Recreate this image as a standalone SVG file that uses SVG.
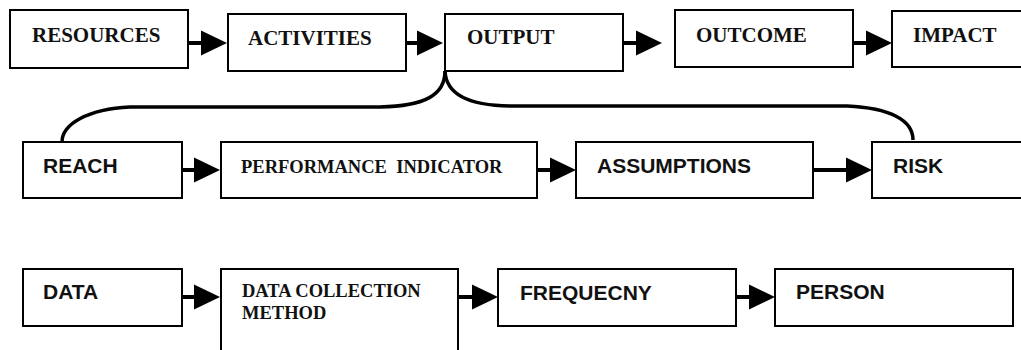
<svg xmlns="http://www.w3.org/2000/svg" width="1021" height="350" viewBox="0 0 1021 350">
  <style>
    .box { fill: #fff; stroke: #000; stroke-width: 2; }
    .serif { font-family: "Liberation Serif", "Times New Roman", serif; font-weight: bold; fill: #111; }
    .sans { font-family: "Liberation Sans", Arial, sans-serif; font-weight: bold; fill: #111; }
    .big { font-size: 21px; }
    .small { font-size: 18.5px; }
    .arrow { stroke: #000; stroke-width: 4; fill: none; marker-end: url(#head); }
    .brace { stroke: #000; stroke-width: 3.5; fill: none; }
  </style>
  <defs>
    <marker id="head" markerUnits="userSpaceOnUse" markerWidth="27" markerHeight="26" refX="4" refY="12.5" orient="auto" overflow="visible">
      <path d="M0,0 L26,12.5 L0,25 Z" fill="#000"/>
    </marker>
  </defs>

  <rect width="1021" height="350" fill="#fff"/>

  <!-- connectors -->
  <g id="connectors">
    <!-- top row -->
    <line class="arrow" x1="188" y1="43" x2="205" y2="43"/>
    <line class="arrow" x1="406" y1="43" x2="421" y2="43"/>
    <line class="arrow" x1="623" y1="43" x2="640" y2="43"/>
    <line class="arrow" x1="853" y1="43" x2="870" y2="43"/>
    <!-- middle row -->
    <line class="arrow" x1="182" y1="170" x2="198" y2="170"/>
    <line class="arrow" x1="537" y1="170" x2="554" y2="170"/>
    <line class="arrow" x1="813" y1="170" x2="850" y2="170"/>
    <!-- bottom row -->
    <line class="arrow" x1="182" y1="297" x2="198" y2="297"/>
    <line class="arrow" x1="439" y1="297" x2="476" y2="297"/>
    <line class="arrow" x1="736" y1="297" x2="753" y2="297"/>
    <!-- brace from OUTPUT down to REACH and RISK -->
    <path class="brace" d="M445,71 C445,95 425,106 380,107 L130,107 C88,109 62,124 62,142"/>
    <path class="brace" d="M445,71 C446,94 468,106 513,106 L847,106 C890,108 913,120 913,140"/>
  </g>

  <!-- top row -->
  <g id="resources">
    <rect class="box" x="10" y="10" width="178" height="58"/>
    <text class="serif big" x="32" y="42">RESOURCES</text>
  </g>
  <g id="activities">
    <rect class="box" x="228" y="14" width="178" height="57"/>
    <text class="serif big" x="248" y="45">ACTIVITIES</text>
  </g>
  <g id="output">
    <rect class="box" x="445" y="14" width="178" height="57"/>
    <text class="serif big" x="467" y="44">OUTPUT</text>
  </g>
  <g id="outcome">
    <rect class="box" x="675" y="10" width="178" height="57"/>
    <text class="serif big" x="696" y="42">OUTCOME</text>
  </g>
  <g id="impact">
    <rect class="box" x="892" y="11" width="140" height="56"/>
    <text class="serif big" x="913" y="42">IMPACT</text>
  </g>

  <!-- middle row -->
  <g id="reach">
    <rect class="box" x="23" y="142" width="159" height="56"/>
    <text class="sans big" x="43" y="173">REACH</text>
  </g>
  <g id="performance-indicator">
    <rect class="box" x="221" y="142" width="316" height="56"/>
    <text class="serif small" x="241" y="173" xml:space="preserve">PERFORMANCE  INDICATOR</text>
  </g>
  <g id="assumptions">
    <rect class="box" x="576" y="142" width="237" height="56"/>
    <text class="sans big" x="597" y="173">ASSUMPTIONS</text>
  </g>
  <g id="risk">
    <rect class="box" x="872" y="142" width="160" height="56"/>
    <text class="sans big" x="893" y="173">RISK</text>
  </g>

  <!-- bottom row -->
  <g id="data">
    <rect class="box" x="23" y="269" width="159" height="57"/>
    <text class="sans big" x="43" y="299">DATA</text>
  </g>
  <g id="data-collection-method">
    <rect class="box" x="221" y="269" width="237" height="120"/>
    <text class="serif small" x="242" y="297">DATA COLLECTION</text>
    <text class="serif small" x="242" y="319">METHOD</text>
  </g>
  <g id="frequency">
    <rect class="box" x="498" y="269" width="238" height="57"/>
    <text class="sans big" x="520" y="300">FREQUECNY</text>
  </g>
  <g id="person">
    <rect class="box" x="775" y="269" width="238" height="57"/>
    <text class="sans big" x="796" y="299">PERSON</text>
  </g>
</svg>
